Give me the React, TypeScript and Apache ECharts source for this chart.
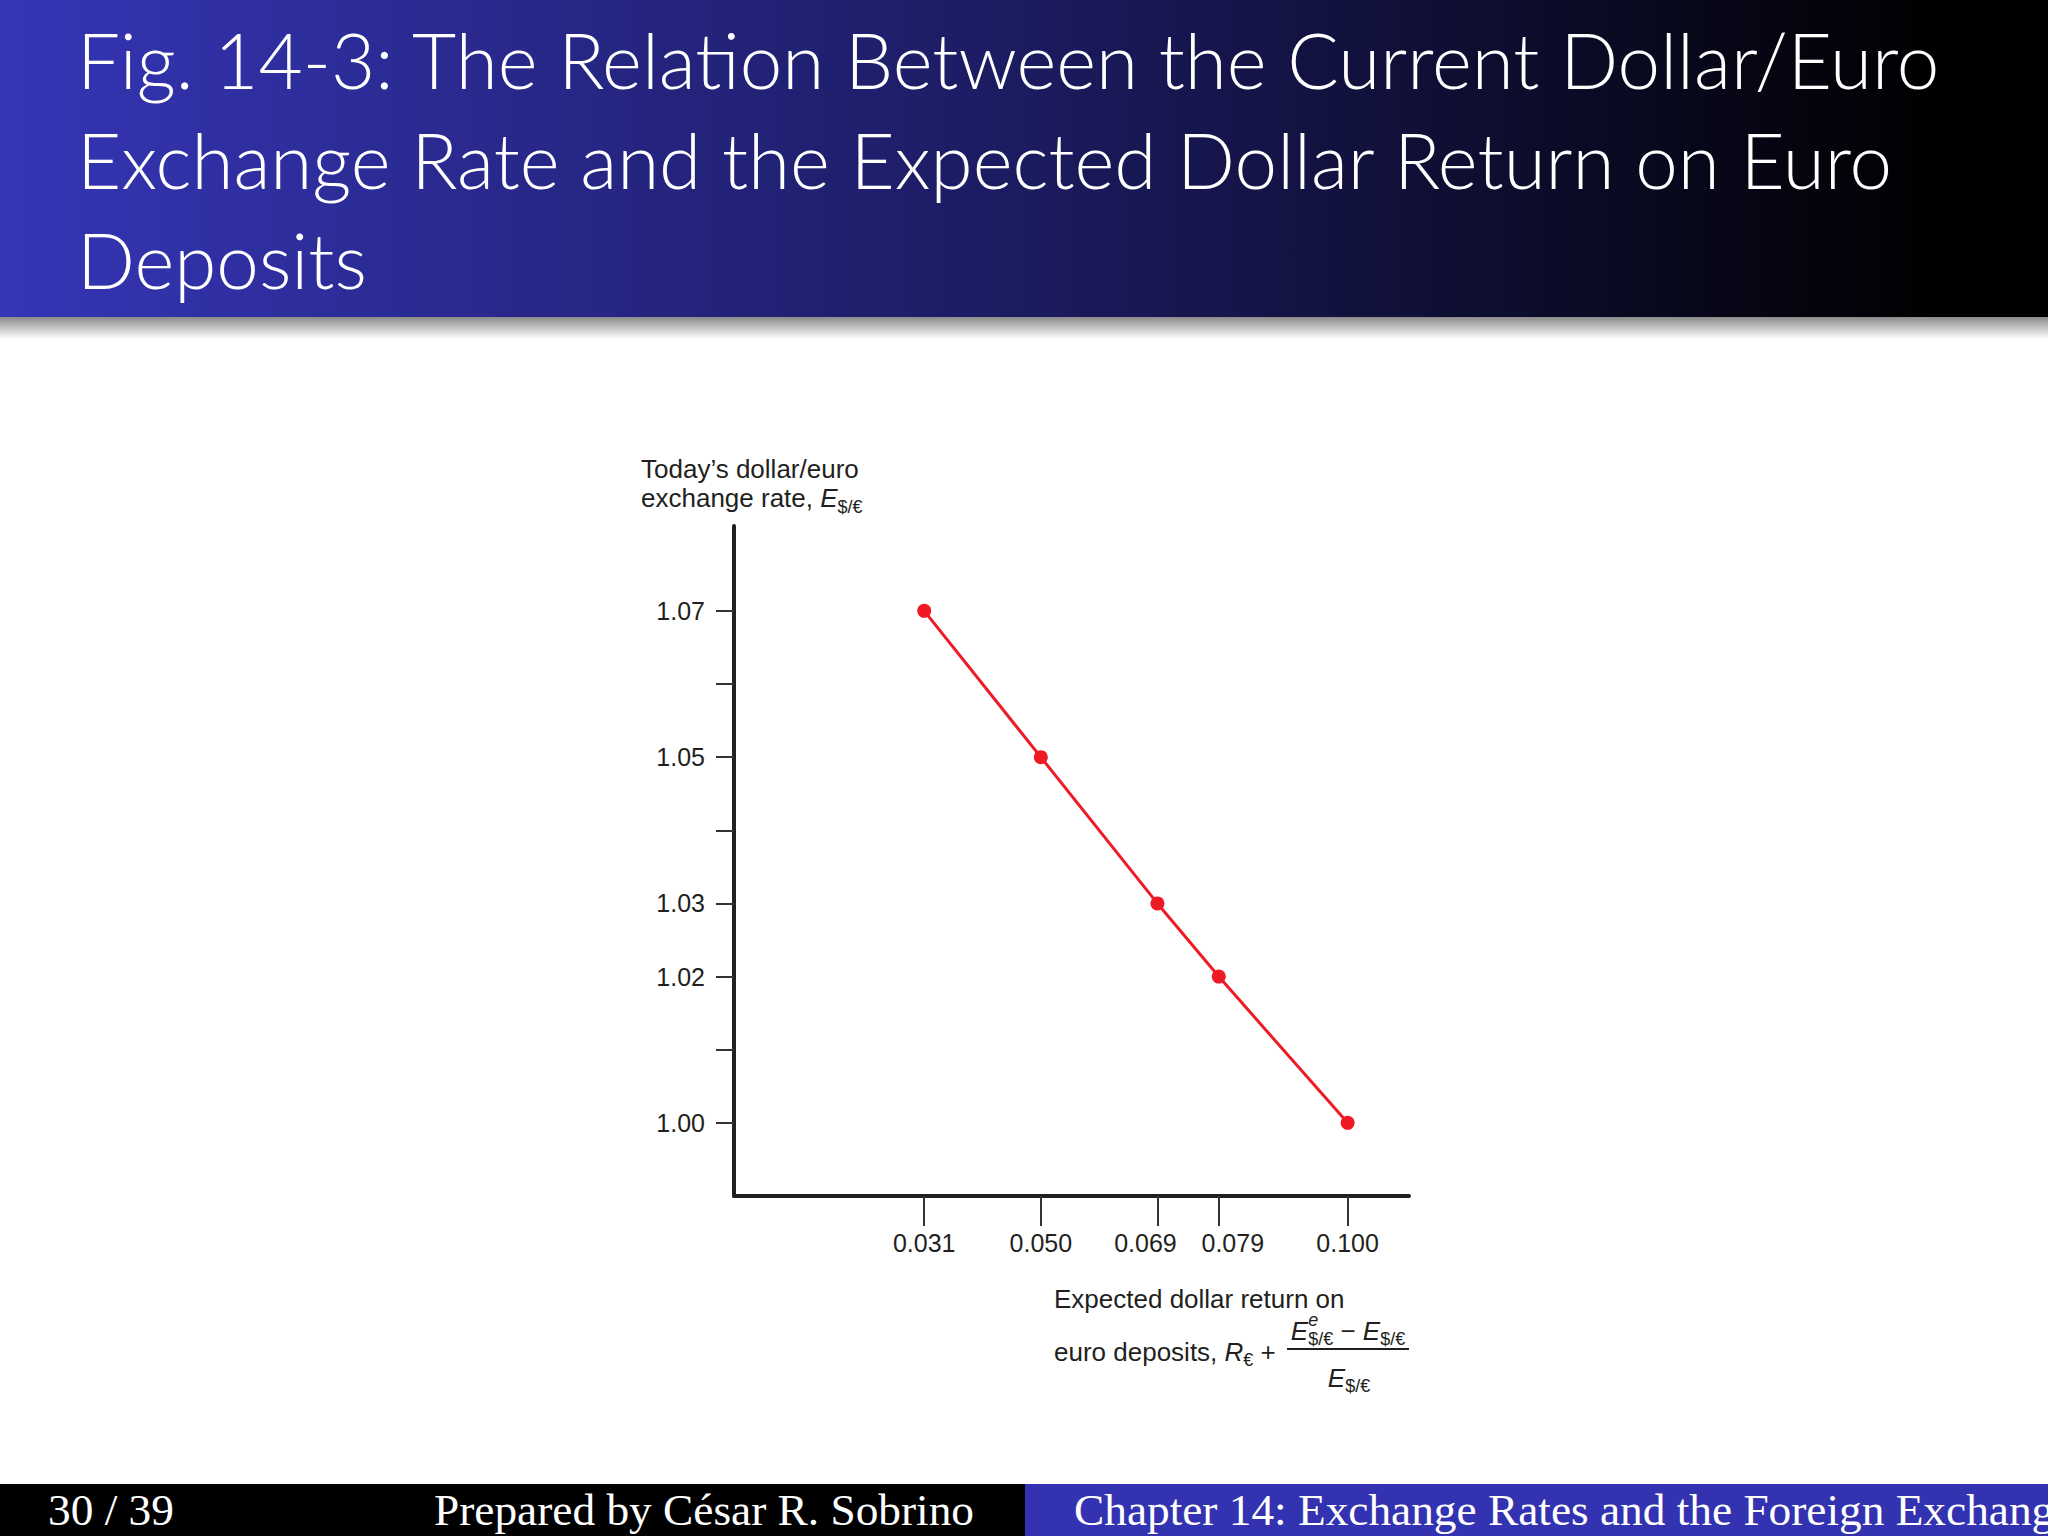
import React, { useEffect, useRef } from "react";
import * as echarts from "echarts";

// ---- data ----
const returnValues = [0.031, 0.05, 0.069, 0.079, 0.1];
const rateValues = [1.07, 1.05, 1.03, 1.02, 1.0];
const xTickValues = [0.031, 0.05, 0.069, 0.079, 0.1];
const yTickValues = [1.0, 1.01, 1.02, 1.03, 1.04, 1.05, 1.06, 1.07];
const yLabelValues = [1.0, 1.02, 1.03, 1.05, 1.07];
const titleLines = [
  "Fig. 14-3: The Relation Between the Current Dollar/Euro",
  "Exchange Rate and the Expected Dollar Return on Euro",
  "Deposits",
];
const footerLeft = "30 / 39";
const footerMid = "Prepared by César R. Sobrino";
const footerRight = "Chapter 14: Exchange Rates and the Foreign Exchange Market";

const SANS = "Liberation Sans";
const INK = "#231f20";

let measureCtx: CanvasRenderingContext2D | null = null;
function measure(text: string, size: number, italic = false, family = SANS, weight = "normal") {
  if (!measureCtx) measureCtx = document.createElement("canvas").getContext("2d");
  measureCtx!.font = `${italic ? "italic " : ""}${weight} ${size}px "${family}"`;
  return measureCtx!.measureText(text).width;
}

type Frag = { t: string; size: number; italic?: boolean; dy?: number; noAdvance?: boolean };

function buildFrags(list: Frag[], x0: number, y: number, align: "left" | "center") {
  const widths = list.map((f) => measure(f.t, f.size, f.italic));
  const total = list.reduce((s, f, i) => s + (f.noAdvance ? 0 : widths[i]), 0);
  let x = align === "center" ? x0 - total / 2 : x0;
  return list.map((f, i) => {
    const el = {
      type: "text",
      x,
      y: y + (f.dy || 0),
      silent: true,
      style: {
        text: f.t,
        fontSize: f.size,
        fontStyle: f.italic ? "italic" : "normal",
        fontFamily: SANS,
        fill: INK,
        align: "left",
        verticalAlign: "middle",
      },
    };
    if (!f.noAdvance) x += widths[i];
    return el;
  });
}

const labelRich = {
  n: { fontSize: 25, fontFamily: SANS, color: INK },
  l: { fontSize: 25, fontFamily: SANS, color: INK, padding: [0, 24, 0, 0] },
  r: { fontSize: 25, fontFamily: SANS, color: INK, padding: [0, 0, 0, 28] },
};

export default function App() {
  const ref = useRef<HTMLDivElement>(null);
  useEffect(() => {
    document.body.style.margin = "0";
    document.body.style.overflow = "hidden";
    const chart = echarts.init(ref.current!, undefined, { renderer: "svg" });

    const titleSize = Math.min(86, (1865 / measure(titleLines[0], 100, false, "Lato", "300")) * 100);
    const footSize = (540 / measure(footerMid, 100, false, "Liberation Serif")) * 100;

    const graphics: any[] = [
      // title band
      {
        type: "rect",
        shape: { x: 0, y: 0, width: 2048, height: 317 },
        style: {
          fill: {
            type: "linear", x: 0, y: 0, x2: 1, y2: 0,
            colorStops: [
              { offset: 0, color: "#3535b6" },
              { offset: 0.5, color: "#1b1b60" },
              { offset: 0.95, color: "#000000" },
              { offset: 1, color: "#000000" },
            ],
          },
        },
        silent: true,
      },
      {
        type: "rect",
        shape: { x: 0, y: 317, width: 2048, height: 22 },
        style: {
          fill: {
            type: "linear", x: 0, y: 0, x2: 0, y2: 1,
            colorStops: [
              { offset: 0, color: "#8a8a8a" },
              { offset: 1, color: "#ffffff" },
            ],
          },
        },
        silent: true,
      },
      ...titleLines.map((t, i) => ({
        type: "text",
        x: 77,
        y: 59 + i * 100,
        silent: true,
        style: {
          text: t,
          fontSize: titleSize,
          fontFamily: "Lato",
          fontWeight: 300,
          fill: "#ffffff",
          align: "left",
          verticalAlign: "middle",
        },
      })),
      // footer
      {
        type: "rect",
        shape: { x: 0, y: 1484, width: 1025, height: 52 },
        style: { fill: "#000000" },
        silent: true,
      },
      {
        type: "rect",
        shape: { x: 1025, y: 1484, width: 1023, height: 52 },
        style: { fill: "#3333b2" },
        silent: true,
      },
      {
        type: "text", x: 48, y: 1510, silent: true,
        style: { text: footerLeft, fontSize: footSize, fontFamily: "Liberation Serif", fill: "#ffffff", align: "left", verticalAlign: "middle" },
      },
      {
        type: "text", x: 704, y: 1510, silent: true,
        style: { text: footerMid, fontSize: footSize, fontFamily: "Liberation Serif", fill: "#ffffff", align: "center", verticalAlign: "middle" },
      },
      {
        type: "text", x: 1074, y: 1510, silent: true,
        style: { text: footerRight, fontSize: footSize, fontFamily: "Liberation Serif", fill: "#ffffff", align: "left", verticalAlign: "middle" },
      },
      // y axis name
      ...buildFrags([{ t: "Today’s dollar/euro", size: 26 }], 641, 469, "left"),
      ...buildFrags(
        [
          { t: "exchange rate, ", size: 26 },
          { t: "E", size: 26, italic: true },
          { t: "$/€", size: 18, dy: 9 },
        ],
        641, 498, "left"
      ),
      // x axis name
      ...buildFrags([{ t: "Expected dollar return on", size: 26 }], 1054, 1299, "left"),
      ...buildFrags(
        [
          { t: "euro deposits, ", size: 26 },
          { t: "R", size: 26, italic: true },
          { t: "€", size: 18, dy: 8 },
          { t: " + ", size: 26 },
        ],
        1054, 1352, "left"
      ),
      ...buildFrags(
        [
          { t: "E", size: 26, italic: true },
          { t: "e", size: 18, italic: true, dy: -11, noAdvance: true },
          { t: "$/€", size: 18, dy: 8 },
          { t: " − ", size: 26 },
          { t: "E", size: 26, italic: true },
          { t: "$/€", size: 18, dy: 8 },
        ],
        1348, 1331, "center"
      ),
      {
        type: "line",
        shape: { x1: 1287, y1: 1349, x2: 1409, y2: 1349 },
        style: { stroke: INK, lineWidth: 2 },
        silent: true,
      },
      ...buildFrags(
        [
          { t: "E", size: 26, italic: true },
          { t: "$/€", size: 18, dy: 8 },
        ],
        1349, 1378, "center"
      ),
    ];

    chart.setOption({
      animation: false,
      backgroundColor: "#ffffff",
      grid: { left: 734, top: 526, width: 675, height: 670, containLabel: false },
      xAxis: {
        type: "value",
        min: 0,
        max: 0.11,
        splitLine: { show: false },
        axisLine: { show: true, onZero: false, lineStyle: { color: INK, width: 4 } },
        axisTick: {
          show: true,
          customValues: xTickValues,
          length: 30,
          lineStyle: { color: "#333333", width: 2 },
        },
        axisLabel: {
          customValues: xTickValues,
          formatter: (v: number) => {
            const s = v.toFixed(3);
            if (s === "0.069") return `{l|${s}}`;
            if (s === "0.079") return `{r|${s}}`;
            return `{n|${s}}`;
          },
          rich: labelRich,
          margin: 34,
          fontSize: 25,
          fontFamily: SANS,
          color: INK,
        },
      },
      yAxis: {
        type: "value",
        min: 0.99,
        max: 1.0816,
        splitLine: { show: false },
        axisLine: { show: true, onZero: false, lineStyle: { color: INK, width: 4 } },
        axisTick: {
          show: true,
          customValues: yTickValues,
          length: 18,
          lineStyle: { color: "#333333", width: 2 },
        },
        axisLabel: {
          customValues: yLabelValues,
          formatter: (v: number) => v.toFixed(2),
          margin: 29,
          fontSize: 25,
          fontFamily: SANS,
          color: INK,
        },
      },
      series: [
        {
          type: "line",
          data: returnValues.map((x, i) => [x, rateValues[i]]),
          symbol: "circle",
          symbolSize: 14,
          itemStyle: { color: "#ee1b24" },
          lineStyle: { color: "#ee1b24", width: 3 },
          z: 3,
        },
      ],
      graphic: graphics,
    });
    return () => chart.dispose();
  }, []);
  return (
    <div
      ref={ref}
      style={{ position: "absolute", left: 0, top: 0, width: 2048, height: 1536 }}
    />
  );
}
